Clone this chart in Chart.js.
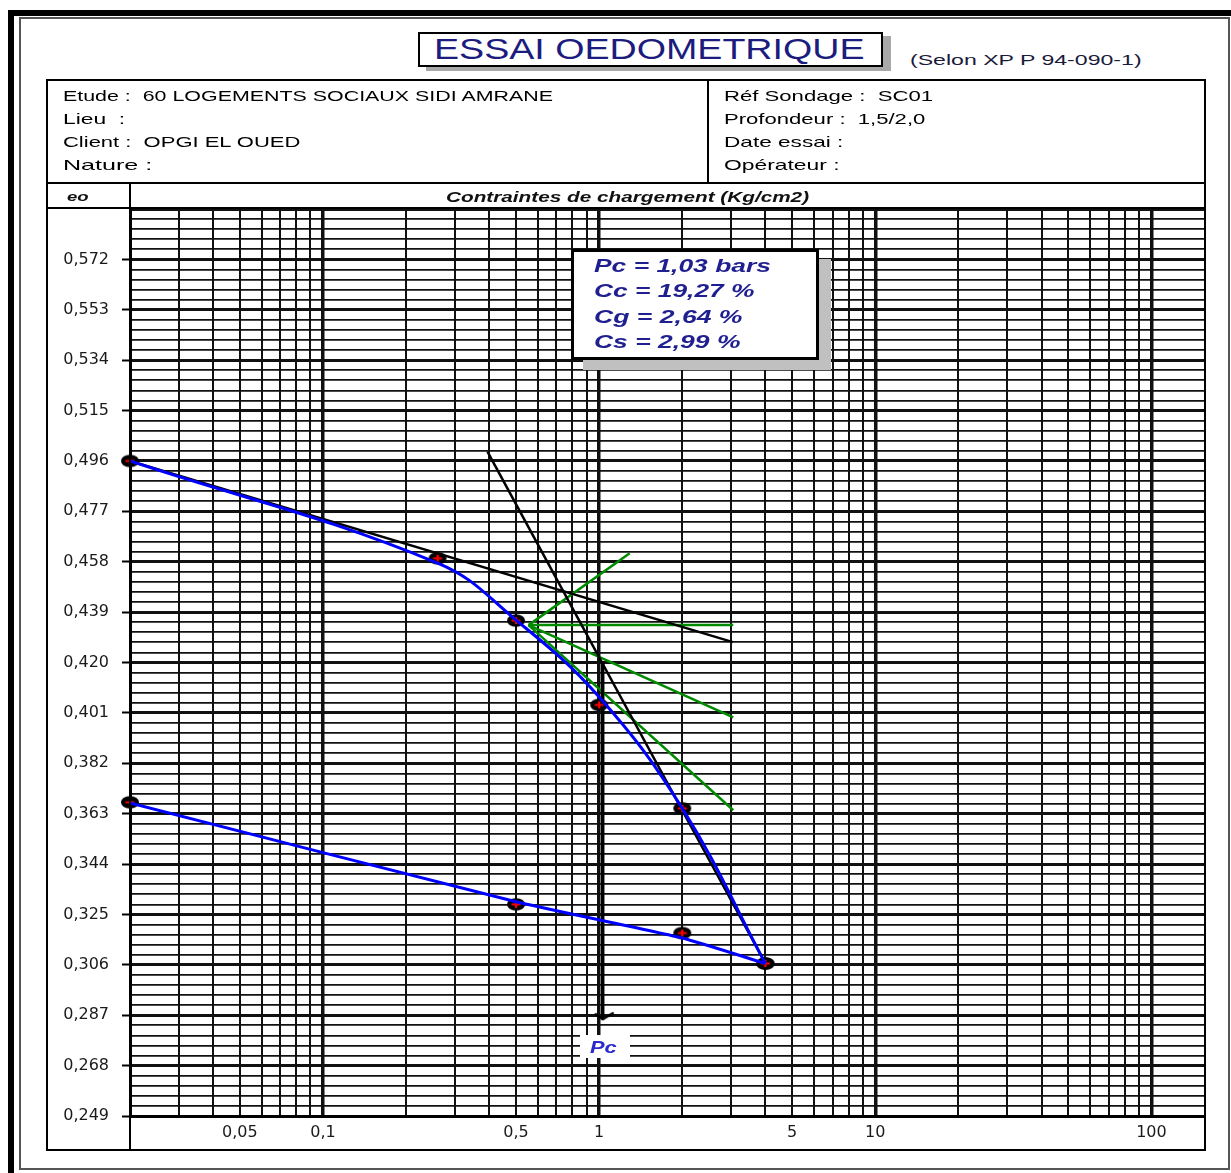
<!DOCTYPE html>
<html><head><meta charset="utf-8">
<script src="https://cdn.jsdelivr.net/npm/chart.js@4.4.1/dist/chart.umd.min.js"></script>
<style>
html,body{margin:0;padding:0;background:#fff;}
body{width:1231px;height:1173px;position:relative;overflow:hidden;font-family:"Liberation Sans",Arial,sans-serif;}
.abs{position:absolute;box-sizing:border-box;}
.ln{position:absolute;background:#000;z-index:4;}
.t{position:absolute;white-space:pre;line-height:1;transform-origin:0 50%;z-index:8;}
.bi{font-weight:bold;font-style:italic;}
#cv{position:absolute;left:47px;top:209px;z-index:1;}
</style></head><body>

<!-- page frame -->
<div class="abs" style="left:8px;top:10px;width:1300px;height:1300px;border-left:6px solid #000;border-top:6px solid #000;"></div>
<div class="abs" style="left:19px;top:17px;width:1211px;height:1153px;border:2px solid #555;"></div>

<!-- title -->
<div class="abs" style="left:418px;top:32px;width:465px;height:35px;border:2px solid #000;background:#fff;box-shadow:8px 4px 0 #a8a8a8;z-index:3;"></div>
<span class="t" data-w="430" style="left:434px;top:49px;font-size:30px;color:#1c1c7e;">ESSAI OEDOMETRIQUE</span>
<span class="t" data-w="231" style="left:910px;top:59px;font-size:15px;color:#1a1a3a;">(Selon XP P 94-090-1)</span>

<!-- table lines -->
<div class="abs" style="left:46px;top:79px;width:1160px;height:1072px;border:2px solid #000;z-index:4;"></div>
<div class="ln" style="left:46px;top:182px;width:1160px;height:2px;"></div>
<div class="ln" style="left:46px;top:207px;width:1160px;height:2px;"></div>
<div class="ln" style="left:707px;top:79px;width:2px;height:104px;"></div>
<div class="ln" style="left:129px;top:182px;width:2px;height:969px;"></div>

<!-- info texts -->
<span class="t" data-w="490" style="left:63px;top:96px;font-size:14.5px;color:#000;">Etude :  60 LOGEMENTS SOCIAUX SIDI AMRANE</span>
<span class="t" data-w="63" style="left:63px;top:118.5px;font-size:14.5px;color:#000;">Lieu  :</span>
<span class="t" data-w="238" style="left:63px;top:141.5px;font-size:14.5px;color:#000;">Client :  OPGI EL OUED</span>
<span class="t" data-w="90" style="left:63px;top:165px;font-size:14.5px;color:#000;">Nature :</span>
<span class="t" data-w="209" style="left:724px;top:96px;font-size:14.5px;color:#000;">Réf Sondage :  SC01</span>
<span class="t" data-w="201" style="left:724px;top:118.5px;font-size:14.5px;color:#000;">Profondeur :  1,5/2,0</span>
<span class="t" data-w="120" style="left:724px;top:141.5px;font-size:14.5px;color:#000;">Date essai :</span>
<span class="t" data-w="115" style="left:724px;top:165px;font-size:14.5px;color:#000;">Opérateur :</span>

<!-- header row -->
<span class="t bi" data-w="22" style="left:67px;top:197px;font-size:13.5px;color:#111;">eo</span>
<span class="t bi" data-w="363" style="left:446px;top:197px;font-size:14px;color:#111;">Contraintes de chargement (Kg/cm2)</span>

<!-- chart -->
<canvas id="cv" width="1158" height="941"></canvas>

<!-- results box -->
<div class="abs" style="left:571px;top:249px;width:248px;height:111px;border:3px solid #000;background:#fff;box-shadow:12px 10px 0 #c0c0c0;z-index:6;"></div>
<span class="t bi" data-w="177" style="left:594px;top:266px;font-size:18.5px;color:#1f1f8f;">Pc = 1,03 bars</span>
<span class="t bi" data-w="161" style="left:594px;top:291px;font-size:18.5px;color:#1f1f8f;">Cc = 19,27 %</span>
<span class="t bi" data-w="148" style="left:594px;top:316.5px;font-size:18.5px;color:#1f1f8f;">Cg = 2,64 %</span>
<span class="t bi" data-w="146" style="left:594px;top:341.5px;font-size:18.5px;color:#1f1f8f;">Cs = 2,99 %</span>

<!-- Pc label -->
<div class="abs" style="left:580px;top:1035px;width:50px;height:23px;background:#fff;z-index:6;"></div>
<span class="t bi" data-w="27" style="left:590px;top:1047px;font-size:17px;color:#2a2acd;">Pc</span>

<script>
// ---------- data ----------
const loadStress = [0.02, 0.26, 0.5, 1, 2, 4];
const loadVoid = [0.496, 0.4593, 0.4358, 0.404, 0.365, 0.3065];
const loadCurveVoid = [0.496, 0.4575, 0.436, 0.407, 0.365, 0.3065];
const unloadStress = [4, 2, 0.5, 0.02];
const unloadVoid = [0.3065, 0.318, 0.3288, 0.3673];
const unloadCurveVoid = [0.3065, 0.3161, 0.3298, 0.367];
const recompStress = [0.02, 3.05];
const recompVoid = [0.496, 0.4277];
const virginStress = [0.394, 4];
const virginVoid = [0.4995, 0.3065];
const pcStress = [1.03, 1.03];
const pcVoid = [0.4205, 0.2855];
const casaTangentUpStress = [0.555, 1.29];
const casaTangentUpVoid = [0.4341, 0.4612];
const casaHorizStress = [0.555, 3.06];
const casaHorizVoid = [0.4341, 0.4341];
const casaBisectStress = [0.555, 3.06];
const casaBisectVoid = [0.4341, 0.3993];
const casaTangentStress = [0.555, 3.06];
const casaTangentVoid = [0.4341, 0.3643];
const yTickLabels = ['0,249','0,268','0,287','0,306','0,325','0,344','0,363','0,382','0,401','0,420','0,439','0,458','0,477','0,496','0,515','0,534','0,553','0,572'];
const xLabelValues = [0.05, 0.1, 0.5, 1, 5, 10, 100];
const xLabelTexts = ['0,05','0,1','0,5','1','5','10','100'];

// ---------- text stretching (reference text is horizontally stretched) ----------
(function(){
  const els = Array.from(document.querySelectorAll('.t'));
  els.forEach(el => {
    const nat = el.offsetWidth;
    const w = parseFloat(el.dataset.w);
    const k = w && nat ? w / nat : 1.27;
    el.style.transform = 'translateY(-50%) scaleX(' + k.toFixed(4) + ')';
  });
})();

// ---------- grid definitions ----------
const xGrid = [];
for (let d = -2; d <= 2; d++) {
  for (let m = 1; m <= 9; m++) {
    const v = +(m * Math.pow(10, d)).toPrecision(6);
    if (v >= 0.02 - 1e-12 && v <= 100 + 1e-9) xGrid.push(v);
  }
}
const yMin = 0.249, yMax = 0.591, yMinorStep = 0.0038;
const yGrid = [];
for (let k = 0; k <= 90; k++) yGrid.push(+(yMin + k * yMinorStep).toFixed(5));

function isDecade(v) {
  const l = Math.log10(v);
  return Math.abs(l - Math.round(l)) < 1e-6;
}
function isLabelled(i) { return i % 5 === 0 && i / 5 < yTickLabels.length; }

// ---------- point styles ----------
function makeMarker() {
  const c = document.createElement('canvas'); c.width = 20; c.height = 15;
  const g = c.getContext('2d');
  g.fillStyle = '#000'; g.beginPath(); g.ellipse(10, 7.5, 9, 6.2, 0, 0, Math.PI * 2); g.fill();
  g.strokeStyle = '#ff0000'; g.lineWidth = 2.2;
  g.beginPath(); g.moveTo(5.5, 7.5); g.lineTo(14.5, 7.5); g.moveTo(10, 4); g.lineTo(10, 11); g.stroke();
  return c;
}
function makeArrow() {
  const c = document.createElement('canvas'); c.width = 26; c.height = 20;
  const g = c.getContext('2d');
  g.strokeStyle = '#000'; g.lineWidth = 2.5; g.lineCap = 'round'; g.lineJoin = 'round';
  g.beginPath(); g.moveTo(6, 5); g.lineTo(13, 10); g.lineTo(23, 4); g.stroke();
  return c;
}
const marker = makeMarker();
const arrow = makeArrow();

const pts = (xs, ys) => xs.map((x, i) => ({ x: x, y: ys[i] }));
const green = '#008a00';
function lineDs(label, xs, ys, color, width, order) {
  return { label: label, data: pts(xs, ys), showLine: true, borderColor: color, backgroundColor: color,
           borderWidth: width, pointRadius: 0, tension: 0, order: order };
}

const chart = new Chart(document.getElementById('cv'), {
  type: 'scatter',
  data: {
    datasets: [
      { label: 'Courbe de chargement', data: pts(loadStress, loadCurveVoid), showLine: true,
        borderColor: '#0000ff', borderWidth: 3, tension: 0.4, pointRadius: 0, order: 1 },
      { label: 'Courbe de déchargement', data: pts(unloadStress, unloadCurveVoid), showLine: true,
        borderColor: '#0000ff', borderWidth: 3, tension: 0.15, pointRadius: 0, order: 1 },
      { label: 'Chargement', data: pts(loadStress, loadVoid), showLine: false,
        pointStyle: marker, pointRadius: 6, clip: false, order: 2 },
      { label: 'Déchargement', data: pts(unloadStress, unloadVoid), showLine: false,
        pointStyle: marker, pointRadius: 6, clip: false, order: 2 },
      lineDs('Droite de recompression', recompStress, recompVoid, '#000', 2.5, 3),
      lineDs('Droite vierge', virginStress, virginVoid, '#000', 2.5, 3),
      { label: 'Pc', data: pts(pcStress, pcVoid), showLine: true, borderColor: '#000', borderWidth: 3.5,
        pointRadius: [0, 6], pointStyle: (c) => c.dataIndex === 1 ? arrow : 'circle', clip: false, order: 3 },
      lineDs('Tangente', casaTangentUpStress, casaTangentUpVoid, green, 2.5, 4),
      lineDs('Horizontale', casaHorizStress, casaHorizVoid, green, 2.5, 4),
      lineDs('Bissectrice', casaBisectStress, casaBisectVoid, green, 2.5, 4),
      lineDs('Tangente courbe', casaTangentStress, casaTangentVoid, green, 2.5, 4)
    ]
  },
  options: {
    responsive: false,
    devicePixelRatio: 1,
    animation: false,
    events: [],
    layout: { autoPadding: false, padding: { left: 0, right: 1, top: 0, bottom: 0 } },
    plugins: { legend: { display: false }, title: { display: false }, tooltip: { enabled: false } },
    scales: {
      x: {
        type: 'logarithmic', min: 0.02, max: 155,
        afterBuildTicks: (s) => { s.ticks = xGrid.map(v => ({ value: v })); },
        afterFit: (s) => { s.height = 34; s.paddingLeft = 0; s.paddingRight = 0; },
        ticks: {
          autoSkip: false, maxRotation: 0, minRotation: 0, padding: 7, color: '#1a1a1a',
          font: { family: 'DejaVu Sans', size: 16 },
          callback: (v) => {
            const i = xLabelValues.findIndex(a => Math.abs(a - v) < 1e-9 * Math.max(1, a));
            return i >= 0 ? xLabelTexts[i] : '';
          }
        },
        grid: {
          color: '#111', drawTicks: false,
          lineWidth: (c) => (c.tick && isDecade(c.tick.value)) ? 3.5 : 2
        },
        border: { display: true, color: '#000', width: 3 }
      },
      y: {
        type: 'linear', min: yMin, max: yMax,
        afterBuildTicks: (s) => { s.ticks = yGrid.map(v => ({ value: v })); },
        afterFit: (s) => { s.width = 83; s.paddingTop = 0; s.paddingBottom = 0; },
        ticks: {
          autoSkip: false, padding: 13, color: '#1a1a1a',
          font: { family: 'DejaVu Sans', size: 16 },
          callback: (v, i) => isLabelled(i) ? yTickLabels[i / 5] : ''
        },
        grid: {
          color: '#111', tickLength: 8, tickWidth: 2,
          lineWidth: (c) => c.index % 5 === 0 ? 3 : 1.7,
          tickColor: (c) => isLabelled(c.index) ? '#000' : 'rgba(0,0,0,0)'
        },
        border: { display: true, color: '#000', width: 3 }
      }
    }
  }
});
</script>
</body></html>
